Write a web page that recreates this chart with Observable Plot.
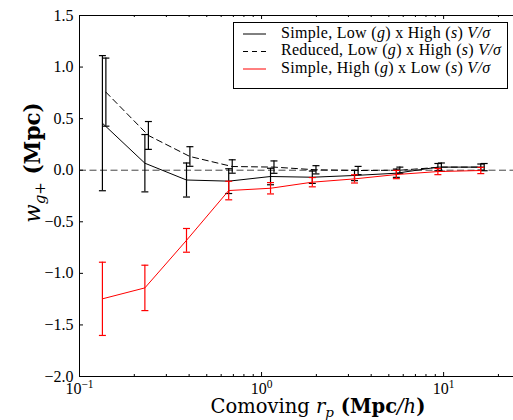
<!DOCTYPE html>
<html><head><meta charset="utf-8">
<script src="https://cdn.jsdelivr.net/npm/d3@7"></script>
<script src="https://cdn.jsdelivr.net/npm/@observablehq/plot@0.6"></script>
<style>body{margin:0;background:#fff}</style>
</head><body><div id="chart"></div>
<script>
// Simple, Low (g) x High (s)
const xSimple = [0.1336, 0.2286, 0.387, 0.66, 1.12, 1.90, 3.24, 5.5, 9.3, 16.0];
const ySimple = [0.456, 0.068, -0.095, -0.106, -0.061, -0.068, -0.051, -0.029, 0.030, 0.030];
const eSimple = [0.655, 0.278, 0.165, 0.12, 0.08, 0.06, 0.05, 0.04, 0.035, 0.03];
// Reduced, Low (g) x High (s)
const xReduced = [0.1396, 0.239, 0.404, 0.69, 1.17, 1.99, 3.39, 5.75, 9.72, 16.7];
const yReduced = [0.757, 0.337, 0.133, 0.036, 0.03, 0.004, -0.003, 0.0, 0.03, 0.03];
const eReduced = [0.33, 0.135, 0.095, 0.065, 0.06, 0.04, 0.04, 0.03, 0.04, 0.035];
// Simple, High (g) x Low (s)
const xRed = [0.1336, 0.2286, 0.387, 0.66, 1.12, 1.90, 3.24, 5.5, 9.3, 16.0];
const yRed = [-1.247, -1.141, -0.68, -0.197, -0.175, -0.116, -0.084, -0.042, -0.013, -0.003];
const eRed = [0.355, 0.22, 0.115, 0.09, 0.055, 0.045, 0.04, 0.04, 0.03, 0.03];

const xMajor = [0.1, 1, 10];
const xMinor = [0.2,0.3,0.4,0.5,0.6,0.7,0.8,0.9,2,3,4,5,6,7,8,9,20];
const yTicks = [-2.0,-1.5,-1.0,-0.5,0.0,0.5,1.0,1.5];

const seriesColors = ["black", "black", "#ff0000"];
const seriesDash = [null, "6,4", null];

const build = (xs, ys, es, k) => xs.map((x, i) => ({x, y: ys[i], e: es[i], k}));
const sets = [
  build(xSimple, ySimple, eSimple, 0),
  build(xReduced, yReduced, eReduced, 1),
  build(xRed, yRed, eRed, 2)
];

const W = 513, H = 420, mL = 79, mT = 15, mB = 44, mR = 0;
const pH = H - mT - mB, pW = W - mL - mR;

const cap = {draw(ctx, size) { const r = Math.sqrt(size / Math.PI); ctx.moveTo(-r, 0); ctx.lineTo(r, 0); }};

const marks = [
  Plot.ruleY([0], {stroke: "#444", strokeDasharray: "7,3.5", strokeWidth: 1})
];
for (const k of [1, 0, 2]) {
  const d = sets[k], c = seriesColors[k];
  marks.push(
    Plot.line(d, {x: "x", y: "y", stroke: c, strokeWidth: 1, strokeDasharray: seriesDash[k]}),
    Plot.ruleX(d, {x: "x", y1: r => r.y - r.e, y2: r => r.y + r.e, stroke: c, strokeWidth: 1.2}),
    Plot.dot(d, {x: "x", y: r => r.y + r.e, symbol: cap, r: 3.5, stroke: c, fill: "none", strokeWidth: 1.2}),
    Plot.dot(d, {x: "x", y: r => r.y - r.e, symbol: cap, r: 3.5, stroke: c, fill: "none", strokeWidth: 1.2})
  );
}
marks.push(
  Plot.ruleX(xMajor, {insetTop: pH - 4, stroke: "black"}),
  Plot.ruleX(xMinor, {insetTop: pH - 2, stroke: "black"}),
  Plot.ruleX(xMajor, {insetBottom: pH - 4, stroke: "black"}),
  Plot.ruleX(xMinor, {insetBottom: pH - 2, stroke: "black"}),
  Plot.ruleY(yTicks, {insetRight: pW - 4, stroke: "black"}),
  Plot.ruleY([1.5, -2.0], {stroke: "black"}),
  Plot.ruleX([0.1], {stroke: "black"}),
  Plot.axisY(yTicks, {tickSize: 0, tickPadding: 6, tickFormat: d3.format(".1f"), label: null}),
  Plot.axisX(xMajor, {tickSize: 0, tickPadding: 6, tickFormat: d => `10^${Math.round(Math.log10(d))}`, label: null})
);

const plot = Plot.plot({
  width: W, height: H,
  marginLeft: mL, marginTop: mT, marginBottom: mB, marginRight: mR,
  style: {fontFamily: "Liberation Serif", fontSize: "16px", color: "black", background: "white"},
  x: {type: "log", domain: [0.1, 24.2]},
  y: {domain: [-2, 1.5]},
  marks
});
document.getElementById("chart").appendChild(plot);

const svg = d3.select(plot);
// superscript tick labels
svg.selectAll("text").each(function() {
  const m = /^10\^(-?\d+)$/.exec(this.textContent);
  if (!m) return;
  const t = d3.select(this);
  t.text("");
  t.append("tspan").text("10");
  t.append("tspan").attr("font-size", "11.5px").attr("dy", "-6").text(m[1].replace("-", "−"));
});

function rich(g, x, y, parts, attrs) {
  const t = g.append("text").attr("x", x).attr("y", y);
  for (const [k, v] of Object.entries(attrs || {})) t.attr(k, v);
  for (const p of parts) {
    const s = t.append("tspan").text(p.t);
    if (p.i) s.attr("font-style", "italic");
    if (p.b) s.attr("font-weight", "bold");
    if (p.fs) s.attr("font-size", p.fs);
    if (p.dy) s.attr("dy", p.dy);
  }
  return t;
}

// axis labels
rich(svg, 318, 413, [
  {t: "Comoving "}, {t: "r", i: 1}, {t: "p", i: 1, fs: "13.5px", dy: 4},
  {t: " (Mpc", b: 1, dy: -4}, {t: "/h", i: 1}, {t: ")", b: 1}
], {"text-anchor": "middle", "font-family": "DejaVu Serif", "font-size": "19.5px", fill: "black"});

const yl = svg.append("g").attr("transform", "translate(40,162.5) rotate(-90)");
rich(yl, 0, 0, [
  {t: "w", i: 1}, {t: "g", i: 1, fs: "15px", dy: 5}, {t: "+", fs: "15px"},
  {t: " (Mpc)", b: 1, dy: -5}
], {"text-anchor": "middle", "font-family": "DejaVu Serif", "font-size": "21.5px", fill: "black"});

// legend
const lg = svg.append("g");
lg.append("rect").attr("x", 233.5).attr("y", 22.5).attr("width", 274).attr("height", 66)
  .attr("fill", "white").attr("stroke", "black").attr("stroke-width", 1);
const rowsY = [37.5, 55, 72.5];
const legendParts = [
  ["Simple, Low (", "g", ") x High (", "s", ") ", "V/σ"],
  ["Reduced, Low (", "g", ") x High (", "s", ") ", "V/σ"],
  ["Simple, High (", "g", ") x Low (", "s", ") ", "V/σ"]
];
legendParts.forEach((p, k) => {
  const y = rowsY[k];
  lg.append("line").attr("x1", 243).attr("x2", 266).attr("y1", y - 3.5).attr("y2", y - 3.5)
    .attr("stroke", seriesColors[k]).attr("stroke-width", 1)
    .attr("stroke-dasharray", seriesDash[k] ? "5,4" : null);
  rich(lg, 281, y, p.map((t, i) => ({t, i: i % 2 === 1 || i === 5})),
    {"text-anchor": "start", "font-family": "Liberation Serif", "font-size": "16px", "letter-spacing": "0.3px", fill: "black"});
});
</script>
</body></html>
